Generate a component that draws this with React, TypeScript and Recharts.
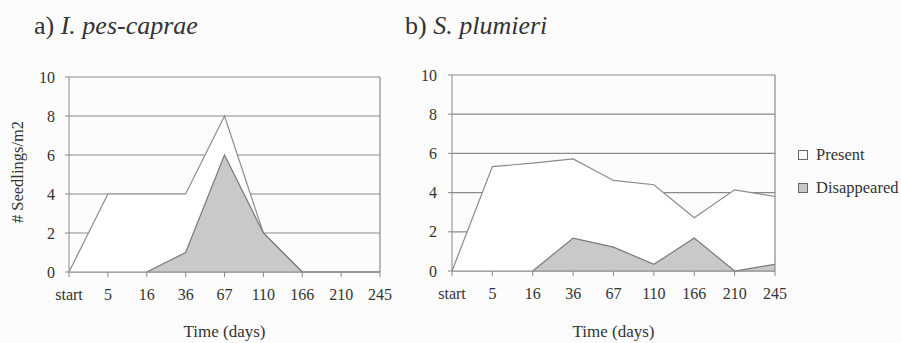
import { AreaChart, Area, XAxis, YAxis, CartesianGrid, ReferenceLine } from 'recharts';

const days = ['start', '5', '16', '36', '67', '110', '166', '210', '245'];
const yTicks = [0, 2, 4, 6, 8, 10];

// a) I. pes-caprae
const presentA = [0, 4, 4, 4, 8, 2, 0, 0, 0];
const disappearedA = [null, null, 0, 1, 6, 2, 0, null, null];

// b) S. plumieri
const presentB = [0, 5.33, 5.5, 5.72, 4.62, 4.4, 2.72, 4.14, 3.8];
const disappearedB = [null, null, 0, 1.68, 1.22, 0.34, 1.68, 0, 0.34];

const font = '"Liberation Serif", "Times New Roman", serif';
const lineGrey = '#8a8a8a';
const textCol = '#333';

const tickStyle = { fill: textCol, fontSize: 16, fontFamily: font };

const build = (present: (number | null)[], gone: (number | null)[]) =>
    days.map((d, i) => ({ day: d, present: present[i], gone: gone[i] }));

const dataA = build(presentA, disappearedA);
const dataB = build(presentB, disappearedB);

type PanelProps = {
    data: { day: string; present: number | null; gone: number | null }[];
    width: number;
    left: number;
    top: number;
    right: number;
    yWidth: number;
    xHeight: number;
    yMargin: number;
};

const Panel = ({ data, width, left, top, right, yWidth, xHeight, yMargin }: PanelProps) => (
    <div style={{ position: 'absolute', left, top: 0 }}>
        <AreaChart width={width} height={343} data={data} margin={{ top, right, bottom: 0, left: 0 }}>
            <CartesianGrid vertical={false} stroke={lineGrey} strokeWidth={1.2} />
            <XAxis
                dataKey="day"
                interval={0}
                height={xHeight}
                tick={tickStyle}
                tickSize={5}
                tickMargin={12}
                stroke={lineGrey}
                label={{ value: 'Time (days)', position: 'insideBottom', offset: 6, fill: textCol, fontSize: 17, fontFamily: font }}
            />
            <YAxis
                domain={[0, 10]}
                ticks={yTicks}
                width={yWidth}
                tick={tickStyle}
                tickSize={4}
                tickMargin={yMargin}
                stroke={lineGrey}
            />
            <ReferenceLine x="245" stroke={lineGrey} strokeWidth={1.2} />
            <Area
                type="linear"
                dataKey="present"
                stroke={lineGrey}
                strokeWidth={1.2}
                fill="#ffffff"
                fillOpacity={1}
                isAnimationActive={false}
            />
            <Area
                type="linear"
                dataKey="gone"
                stroke="#7a7a7a"
                strokeWidth={1.2}
                fill="#c9c9c9"
                fillOpacity={1}
                isAnimationActive={false}
            />
        </AreaChart>
    </div>
);

const App = () => {
    return (
        <div style={{ position: 'absolute', left: 0, top: 0, width: 901, height: 343, background: '#fcfcfc', fontFamily: font, color: textCol, overflow: 'hidden' }}>
            <div style={{ position: 'absolute', left: 34, top: 13, fontSize: 26, lineHeight: '26px', whiteSpace: 'nowrap' }}>
                a) <i>I. pes-caprae</i>
            </div>
            <div style={{ position: 'absolute', left: 405, top: 13, fontSize: 26, lineHeight: '26px', whiteSpace: 'nowrap' }}>
                b) <i>S. plumieri</i>
            </div>
            <div
                style={{
                    position: 'absolute',
                    left: 17,
                    top: 172,
                    fontSize: 16.5,
                    lineHeight: '17px',
                    whiteSpace: 'nowrap',
                    transform: 'translate(-50%, -50%) rotate(-90deg)',
                }}
            >
                # Seedlings/m2
            </div>
            <Panel data={dataA} width={450} left={0} top={77} right={70} yWidth={69} xHeight={71} yMargin={10} />
            <Panel data={dataB} width={420} left={380} top={75} right={25} yWidth={72} xHeight={72} yMargin={11} />
            {[
                { label: 'Present', fill: '#ffffff', y: 155 },
                { label: 'Disappeared', fill: '#c9c9c9', y: 188 },
            ].map((it) => (
                <div key={it.label} style={{ position: 'absolute', left: 798, top: it.y - 10, height: 20, display: 'flex', alignItems: 'center', fontSize: 16.5, whiteSpace: 'nowrap' }}>
                    <span style={{ display: 'inline-block', width: 8, height: 8, border: '1px solid #666', background: it.fill, marginRight: 8 }} />
                    {it.label}
                </div>
            ))}
        </div>
    );
};

export default App;
